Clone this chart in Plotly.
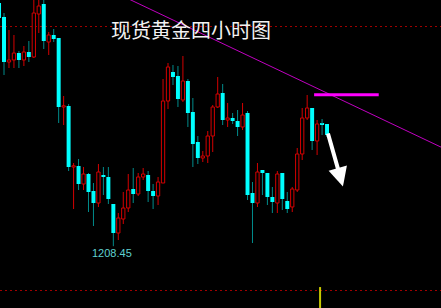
import plotly.graph_objects as go

# ---- data (4h gold candles) ----
idx = list(range(-1, 66))
opens = [1269.25, 1265.75, 1254.5, 1255, 1256.75, 1255, 1257, 1255.75, 1266.5, 1269, 1259.5,
         1261.25, 1260.5, 1243.25, 1243.5, 1228.25, 1228.5, 1224, 1226.5, 1222.25, 1219.25,
         1226.25, 1225.75, 1219, 1211.75, 1215.25, 1218, 1222.75, 1221.5, 1225.75, 1226.25,
         1222.25, 1221, 1224.25, 1244.75, 1252, 1251, 1245, 1249.75, 1242, 1234.5,
         1230.5, 1231, 1236, 1243.25, 1246.75, 1240, 1240.5, 1239.75, 1238.25, 1241.75,
         1221.75, 1219.25, 1227.5, 1226.75, 1220.75, 1219.25, 1226.75, 1219.75, 1218.25, 1222.5,
         1231.5, 1240.5, 1243, 1234.75, 1239, 1239]
highs = [1271.25, 1266.75, 1262.5, 1261.25, 1257.25, 1258.5, 1259.75, 1270.75, 1270.75, 1270.75, 1262,
         1262.75, 1260.5, 1246, 1244, 1229.25, 1230.25, 1228.25, 1226.75, 1224.25, 1229,
         1228.25, 1228.25, 1219, 1216.75, 1222, 1226.5, 1228, 1226.75, 1228, 1227.25,
         1224, 1225.75, 1250.25, 1254.25, 1253.75, 1253.5, 1256, 1250.25, 1245.5, 1236,
         1232.25, 1237.25, 1243.75, 1250.75, 1249, 1244.25, 1241.75, 1242.5, 1244.25, 1242.25,
         1224.5, 1229.25, 1227.5, 1226.75, 1223.25, 1227.25, 1226.75, 1222, 1223.25, 1233,
         1243, 1246.25, 1243, 1240, 1240.25, 1239]
lows = [1265, 1251.25, 1253, 1253, 1253, 1253.5, 1254.5, 1255.5, 1261.75, 1257.75, 1256.25,
        1259.5, 1239.25, 1238.75, 1227.25, 1217.75, 1222.5, 1222.5, 1217, 1213.5, 1218.25,
        1221.25, 1219, 1208.45, 1210, 1214, 1217, 1219.25, 1221, 1225, 1219.5,
        1217.75, 1218.75, 1224.25, 1242.75, 1248.75, 1243.25, 1244.5, 1238.25, 1228.25, 1229,
        1229.5, 1229.25, 1232, 1243, 1238.75, 1238.25, 1239, 1236, 1237.5, 1220,
        1209.25, 1218.25, 1221.25, 1218.75, 1216.75, 1216.75, 1217.5, 1216.75, 1217, 1222,
        1230, 1240, 1232.5, 1231.25, 1236.25, 1235.75]
closes = [1265.5, 1254.5, 1255, 1256.75, 1255, 1257, 1255.75, 1266.75, 1268.5, 1259.75, 1261.25,
          1260.25, 1243.25, 1243.5, 1228.25, 1228.5, 1224, 1226.5, 1222, 1219.25, 1227,
          1225.75, 1220.25, 1211.75, 1215.5, 1218, 1222.5, 1221.5, 1225.75, 1226.5, 1222.25,
          1221, 1224.5, 1244.75, 1253.25, 1250.75, 1245.25, 1249.75, 1241.75, 1234, 1230.5,
          1231, 1236, 1243.25, 1246.5, 1240, 1240.5, 1239.75, 1238.25, 1241.25, 1221.25,
          1219.25, 1227, 1226.75, 1220.75, 1219.5, 1226.5, 1220.25, 1217.75, 1222.75, 1231.5,
          1240.5, 1243, 1234.75, 1239, 1238.75, 1236.25]

title_text = "现货黄金四小时图"
low_label = "1208.45"
low_index = 22
low_price = 1208.45

trend_pts = [(24, 1270.9), (90, 1232.0)]
resistance = (62.4, 75.4, 1246.3)
arrow_tail = (65.1, 1237.0)
arrow_tip = (68.2, 1223.4)
dotted_levels = [1263.375, 1197.375]
marker_x = 63.6

UP = "#D40000"
DOWN_BODY = "#00FFFF"
DOWN_WICK = "#008B8B"

# ---- build traces ----
def wick_segments(sel):
    xs, ys = [], []
    for i, o, h, l, c in zip(idx, opens, highs, lows, closes):
        if not sel(o, c):
            continue
        top, bot = max(o, c), min(o, c)
        xs += [i, i, None, i, i, None]
        ys += [h, top, None, bot, l, None]
    return xs, ys

up = lambda o, c: c > o
down = lambda o, c: c <= o

fig = go.Figure()
wx, wy = wick_segments(up)
fig.add_trace(go.Scatter(x=wx, y=wy, mode="lines", line=dict(color=UP, width=1),
                         hoverinfo="skip", showlegend=False))
wx, wy = wick_segments(down)
fig.add_trace(go.Scatter(x=wx, y=wy, mode="lines", line=dict(color=DOWN_WICK, width=1),
                         hoverinfo="skip", showlegend=False))

def bars(sel):
    xs, bases, hs = [], [], []
    for i, o, c in zip(idx, opens, closes):
        if sel(o, c):
            xs.append(i)
            bases.append(min(o, c))
            hs.append(max(abs(c - o), 0.3))
    return xs, bases, hs

bx, bb, bh = bars(up)
fig.add_trace(go.Bar(x=bx, y=bh, base=bb, width=0.66, marker=dict(color="#000000",
              line=dict(color=UP, width=1)), hoverinfo="skip", showlegend=False))
bx, bb, bh = bars(down)
fig.add_trace(go.Bar(x=bx, y=bh, base=bb, width=0.8, marker=dict(color=DOWN_BODY,
              line=dict(width=0)), hoverinfo="skip", showlegend=False))

shapes = []
for lv in dotted_levels:
    shapes.append(dict(type="line", xref="paper", x0=0, x1=1, y0=lv, y1=lv, layer="below",
                       line=dict(color="#A00000", width=1, dash="2px,3px")))
shapes.append(dict(type="line", x0=trend_pts[0][0], y0=trend_pts[0][1],
                   x1=trend_pts[1][0], y1=trend_pts[1][1],
                   line=dict(color="#C000C0", width=1)))
shapes.append(dict(type="line", x0=resistance[0], x1=resistance[1], y0=resistance[2],
                   y1=resistance[2], line=dict(color="#FF00FF", width=3)))
shapes.append(dict(type="line", x0=marker_x, x1=marker_x, yref="paper", y0=0, y1=0.068,
                   line=dict(color="#C8C800", width=2)))

annotations = [
    dict(text=title_text, xref="paper", yref="paper", x=0.433, y=0.903,
         xanchor="center", yanchor="middle", showarrow=False,
         font=dict(family="Noto Sans CJK SC", size=20, color="#F2F2F2")),
    dict(text=low_label, x=low_index, y=low_price, xanchor="center", yanchor="top",
         xshift=-1, yshift=1, showarrow=False,
         font=dict(family="Liberation Sans", size=11, color="#5FD0D0")),
    dict(x=arrow_tip[0], y=arrow_tip[1], ax=arrow_tail[0], ay=arrow_tail[1],
         axref="x", ayref="y", showarrow=True, arrowhead=2, arrowsize=0.95,
         arrowwidth=4, arrowcolor="#FFFFFF", text=""),
]

fig.update_layout(
    width=441, height=308, margin=dict(l=0, r=0, t=0, b=0),
    paper_bgcolor="#000000", plot_bgcolor="#000000",
    barmode="overlay", showlegend=False,
    xaxis=dict(range=[-0.805, 87.93], visible=False, fixedrange=True),
    yaxis=dict(range=[1193, 1270], visible=False, fixedrange=True),
    shapes=shapes, annotations=annotations,
)

fig.write_html("out.html", config={"displayModeBar": False})
